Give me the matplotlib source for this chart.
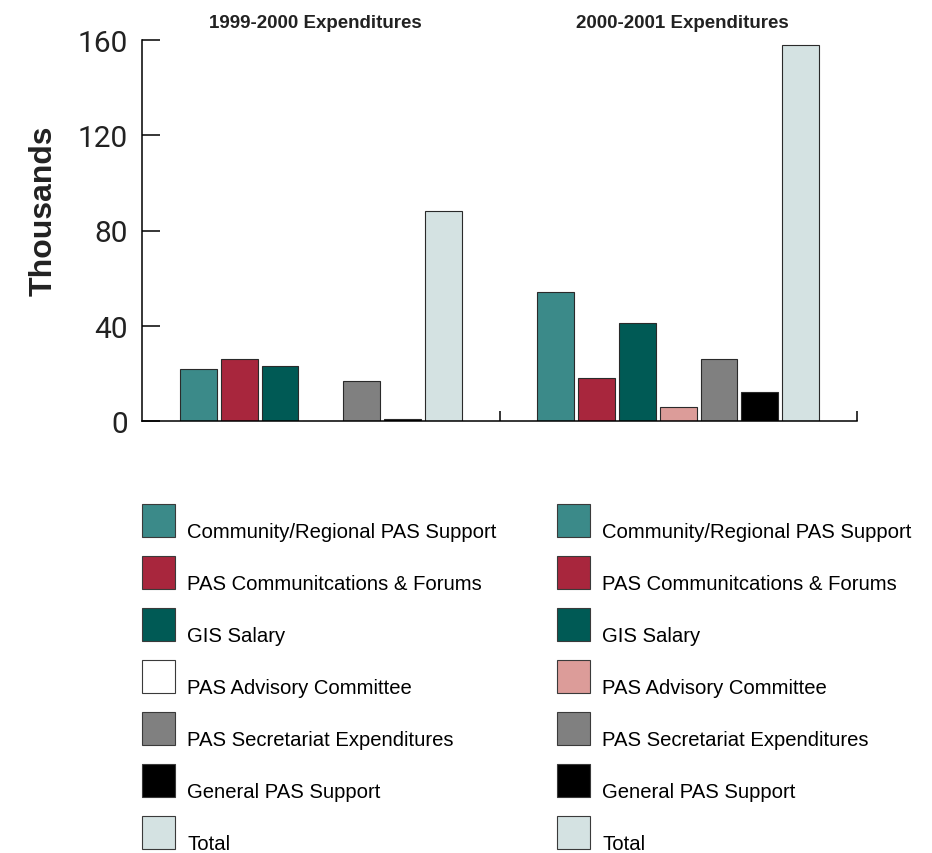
import numpy as np
import matplotlib
matplotlib.use('Agg')
import matplotlib.pyplot as plt
from matplotlib.patches import Patch, Rectangle
from matplotlib.legend_handler import HandlerPatch

plt.rcParams['font.family'] = ['Liberation Sans', 'DejaVu Sans']

# data (thousands)
periods = ['1999-2000 Expenditures', '2000-2001 Expenditures']
categories = ['Community/Regional PAS Support', 'PAS Communitcations & Forums', 'GIS Salary',
              'PAS Advisory Committee', 'PAS Secretariat Expenditures', 'General PAS Support', 'Total']
values_9900 = [22, 26, 23, 0, 17, 1, 88]
values_0001 = [54, 18, 41, 6, 26, 12, 158]
colors = ['#3b8a89', '#a8263d', '#005a55', '#dc9c99', '#808080', '#000000', '#d4e2e2']
legend_colors_9900 = ['#3b8a89', '#a8263d', '#005a55', '#ffffff', '#808080', '#000000', '#d4e2e2']
yticks = [0, 40, 80, 120, 160]

W, H = 932, 854
fig = plt.figure(figsize=(W / 100, H / 100), dpi=100)
ax = fig.add_axes([142 / W, 1 - 422 / H, (857 - 142) / W, (422 - 41) / H])

slot = 0.1141
width = 0.103
for i, vals in enumerate([values_9900, values_0001]):
    for k, v in enumerate(vals):
        ax.bar(i + (k - 3) * slot, v, width=width, color=colors[k],
               edgecolor='#2a2a2a', linewidth=0.8, zorder=2)

ax.set_xlim(-0.5, 1.5)
ax.set_ylim(0, 160)
ax.set_yticks(yticks)
ax.set_yticklabels([str(t) for t in yticks], fontfamily='Roboto', fontsize=21.5, color='#222222')
ax.set_xticks([0.5, 1.5])
ax.set_xticklabels([])
ax.tick_params(axis='y', direction='in', length=13, width=1.1, pad=10)
ax.tick_params(axis='x', direction='in', length=7, width=1.1)
for s in ['top', 'right']:
    ax.spines[s].set_visible(False)
for s in ['left', 'bottom']:
    ax.spines[s].set_linewidth(1.1)
ax.spines['bottom'].set_zorder(3)

fig.text(44 / W, 1 - 211 / H, 'Thousands', rotation=90, fontsize=23, fontweight='bold',
         ha='center', va='center', color='#222222')
fig.text(315 / W, 1 - 28 / H, periods[0], fontsize=13.5, fontweight='bold',
         ha='center', va='baseline', color='#222222')
fig.text(682 / W, 1 - 28 / H, periods[1], fontsize=13.5, fontweight='bold',
         ha='center', va='baseline', color='#222222')


def square_patch(legend, orig_handle, xdescent, ydescent, width, height, fontsize):
    return Rectangle((-xdescent, 0), width, width)


fs = 14.6
for x0, cols in [(142, legend_colors_9900), (557, colors)]:
    handles = [Patch(facecolor=c, edgecolor='#3a3a3a', linewidth=0.8) for c in cols]
    fig.legend(handles, categories, loc='upper left',
               bbox_to_anchor=(x0 / W, 1 - 518 / H), frameon=False, fontsize=fs,
               borderpad=0, borderaxespad=0, handlelength=1.62, handleheight=1.6,
               handletextpad=0.6, labelspacing=1.28,
               handler_map={Patch: HandlerPatch(patch_func=square_patch)})

fig.savefig('out.png', dpi=100)
